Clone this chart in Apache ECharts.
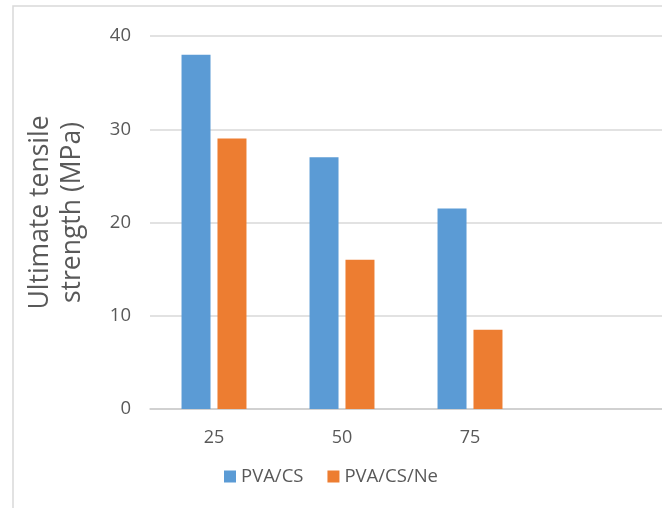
<!DOCTYPE html>
<html>
<head>
<meta charset="utf-8">
<script src="https://cdn.jsdelivr.net/npm/echarts@6/dist/echarts.min.js"></script>
<style>
  html, body { margin: 0; padding: 0; background: #fff; }
  #chart { width: 662px; height: 508px; }
</style>
</head>
<body>
<div id="chart"></div>
<script>
// Categories (last slot left empty, as in the original layout)
const categories = ['25', '50', '75', ''];
const seriesNames = ['PVA/CS', 'PVA/CS/Ne'];
const pvaCs = [38, 27, 21.5, null];
const pvaCsNe = [29, 16, 8.5, null];
const yTicks = [0, 10, 20, 30, 40];

const textColor = '#595959';
const fontFamily = '"Open Sans", "Noto Sans", sans-serif';

const chart = echarts.init(document.getElementById('chart'), null, { renderer: 'canvas' });

chart.setOption({
  backgroundColor: '#ffffff',
  animation: false,
  textStyle: { fontFamily: fontFamily },
  graphic: [{
    type: 'rect',
    shape: { x: 13, y: 6, width: 700, height: 560 },
    style: { fill: 'none', stroke: '#d9d9d9', lineWidth: 1.5 },
    silent: true
  }],
  grid: { left: 150, right: 0, top: 36, bottom: 99 },
  legend: {
    data: seriesNames,
    left: 'center',
    top: 462,
    itemWidth: 12,
    itemHeight: 12,
    itemGap: 24,
    icon: 'rect',
    textStyle: { color: textColor, fontSize: 18.5, fontFamily: fontFamily }
  },
  xAxis: {
    type: 'category',
    data: categories,
    axisLine: { show: true, lineStyle: { color: '#cccccc', width: 1.5 } },
    axisTick: { show: false },
    axisLabel: { color: textColor, fontSize: 18, margin: 20, fontFamily: fontFamily }
  },
  yAxis: {
    type: 'value',
    min: yTicks[0],
    max: yTicks[yTicks.length - 1],
    interval: yTicks[1] - yTicks[0],
    name: 'Ultimate tensile\nstrength (MPa)',
    nameLocation: 'middle',
    nameGap: 62,
    nameTextStyle: { color: textColor, fontSize: 26.5, lineHeight: 32, fontFamily: fontFamily, padding: [0, 0, 0, 20] },
    axisLine: { show: false },
    axisTick: { show: false },
    axisLabel: { color: textColor, fontSize: 18.5, margin: 19, fontFamily: fontFamily },
    splitLine: { lineStyle: { color: '#d9d9d9', width: 1.5 } }
  },
  series: [
    {
      name: seriesNames[0],
      type: 'bar',
      data: pvaCs,
      barWidth: 29,
      barGap: '24%',
      itemStyle: { color: '#5b9bd5' }
    },
    {
      name: seriesNames[1],
      type: 'bar',
      data: pvaCsNe,
      barWidth: 29,
      barGap: '24%',
      itemStyle: { color: '#ed7d31' }
    }
  ]
});
</script>
</body>
</html>
